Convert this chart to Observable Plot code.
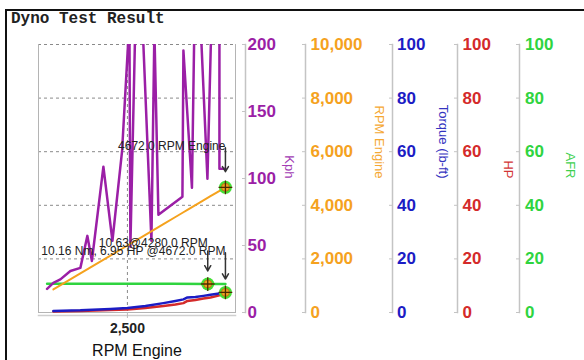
<!DOCTYPE html>
<html><head><meta charset="utf-8">
<script src="https://cdn.jsdelivr.net/npm/d3@7"></script>
<script src="https://cdn.jsdelivr.net/npm/@observablehq/plot@0.6"></script>
<style>
body{margin:0;background:#fff;}
#wrap{position:relative;width:584px;height:360px;overflow:hidden;}
#border{position:absolute;left:5px;top:9px;right:-10px;bottom:-10px;border-left:2px solid #111;border-top:2px solid #111;pointer-events:none;}
#title{height:28px;box-sizing:border-box;padding:11px 0 0 11px;font:bold 16px "Liberation Mono","Courier New",monospace;color:#222;line-height:16px;overflow:visible;}
</style></head><body>
<div id="wrap"><div id="border"></div><div id="title">Dyno Test Result</div><div id="chart"></div></div>
<script>
// Kph series (own RPM samples)
const kphRpm = [720, 860, 1015, 1237, 1458, 1613, 1713, 1968, 2168, 2382, 2544, 2566, 2677, 2832, 3032, 3098, 3187, 3719, 3741, 3930, 3985, 4118, 4273, 4362, 4539, 4539, 4672];
const kph    = [17.6, 22.1, 24.7, 31.0, 33.3, 57.2, 38.5, 108.8, 53.5, 120.7, 218, 49, 218, 218, 53.5, 210, 72.9, 86.4, 195.5, 93.1, 218, 218, 99.8, 218, 218, 107.3, 107.3];
// Engine RPM, Torque (lb-ft), HP
const rpm    = [860, 1458, 2123, 2500, 2899, 3298, 3564, 3741, 3830, 4007, 4184, 4340, 4495, 4672];
const torque = [0.6, 0.8, 1.3, 1.7, 2.4, 3.5, 4.3, 4.9, 5.6, 5.8, 6.2, 6.6, 7.0, 7.49];
const hp     = [0.4, 0.6, 0.9, 1.1, 1.7, 2.4, 3.0, 3.5, 4.3, 4.7, 5.2, 5.6, 6.2, 6.95];
// AFR
const afrRpm = [720, 1500, 2500, 3500, 4280, 4672];
const afr    = [10.7, 10.7, 10.7, 10.7, 10.63, 10.63];
// Callouts
const calloutText  = ["4672.0 RPM Engine", "10.63@4280.0 RPM", "10.16 Nm, 6.95 HP @4672.0 RPM"];
const calloutRpm   = [4672, 4280, 4672];
const calloutValue = [46.72, 10.63, 7.49]; // on the shared 0-100 axis
// Tick labels
const kphTicks = [0, 50, 100, 150, 200];
const rpmTicks = [0, 2000, 4000, 6000, 8000, 10000];
const pctTicks = [0, 20, 40, 60, 80, 100];
const xTicks = [2500];

const purple = "#9b1fa6", orange = "#f5a21e", blue = "#1c1cc4", red = "#d42a2a", green = "#2fd43f";

const rows = rpm.map((r, i) => ({rpm: r, eng: r / 100, torque: torque[i], hp: hp[i]}));
const kphRows = kphRpm.map((r, i) => ({rpm: r, v: kph[i] / 2}));
const afrRows = afrRpm.map((r, i) => ({rpm: r, v: afr[i]}));
const callouts = calloutText.map((t, i) => ({text: t, rpm: calloutRpm[i], v: calloutValue[i]}));

const fmtComma = d3.format(",");
const axes = [
  {ticks: kphTicks.map(d => d / 2), fmt: d => String(d * 2), color: purple, line: 245, pad: 2, title: "Kph", tdx: 54, tcolor: "#a23cb4"},
  {ticks: rpmTicks.map(d => d / 100), fmt: d => fmtComma(d * 100), color: orange, line: 305, pad: 5, title: "RPM Engine", tdx: 144, tcolor: "#f5a833"},
  {ticks: pctTicks, fmt: d => String(d), color: blue, line: 392, pad: 4.5, title: "Torque (lb-ft)", tdx: 208, tcolor: "#3434c0"},
  {ticks: pctTicks, fmt: d => String(d), color: red, line: 457, pad: 5, title: "HP", tdx: 273, tcolor: "#d23434"},
  {ticks: pctTicks, fmt: d => String(d), color: green, line: 519, pad: 5.5, title: "AFR", tdx: 335, tcolor: "#3ed04e"}
];
const L = 38, R = 235;

const axisMarks = axes.flatMap(a => [
  Plot.frame({anchor: "left", dx: a.line - L, stroke: "#c4c4c4", strokeWidth: 1.5}),
  Plot.axisY({anchor: "left", dx: a.line - L, ticks: a.ticks, tickSize: 3, tickFormat: () => "", stroke: "#c4c4c4", label: null}),
  Plot.axisY({anchor: "right", dx: a.line - R, ticks: a.ticks, tickSize: 0, tickPadding: a.pad, tickFormat: a.fmt, fill: a.color, fontSize: 17, fontWeight: "bold", label: null}),
  Plot.text([a.title], {frameAnchor: "right", dx: a.tdx, rotate: 90, fill: a.tcolor, fontSize: 13})
]);

const chart = Plot.plot({
  width: 584, height: 332,
  marginLeft: L, marginRight: 584 - R, marginTop: 16, marginBottom: 48,
  x: {domain: [530, 4895]},
  y: {domain: [0, 100]},
  style: {fontFamily: "'Liberation Sans', Arial, sans-serif", background: "transparent", overflow: "visible"},
  marks: [
    Plot.gridY({ticks: pctTicks, stroke: "#8a8a8a", strokeOpacity: 1, strokeDasharray: "3,3"}),
    Plot.gridX({ticks: xTicks, stroke: "#8a8a8a", strokeOpacity: 1, strokeDasharray: "3,3"}),
    Plot.frame({anchor: "left", stroke: "#b4b4b4"}),
    Plot.frame({anchor: "right", stroke: "#b4b4b4"}),
    Plot.frame({anchor: "bottom", stroke: "#b4b4b4"}),
    Plot.frame({anchor: "bottom", dy: 3, stroke: "#cfcfcf", strokeWidth: 1.5}),
    Plot.axisX({ticks: xTicks, tickFormat: fmtComma, tickSize: 6, tickPadding: 5, fontSize: 14, fontWeight: "bold", fill: "#222", stroke: "#bbb", label: null}),
    Plot.text(["RPM Engine"], {frameAnchor: "bottom", dy: 43, fontSize: 16, fill: "#111"}),
    ...axisMarks,
    Plot.line(afrRows, {x: "rpm", y: "v", stroke: green, strokeWidth: 2.5}),
    Plot.line(rows, {x: "rpm", y: "hp", stroke: red, strokeWidth: 2.5}),
    Plot.line(rows, {x: "rpm", y: "torque", stroke: blue, strokeWidth: 2.5}),
    Plot.line(kphRows, {x: "rpm", y: "v", stroke: purple, strokeWidth: 2.5, clip: true, strokeLinejoin: "round"}),
    Plot.line(rows, {x: "rpm", y: "eng", stroke: orange, strokeWidth: 2}),
    Plot.text(callouts, {x: "rpm", y: "v", text: "text", textAnchor: "end", dy: -41, fontSize: 12, fill: "#222"}),
    Plot.arrow(callouts, {x1: "rpm", x2: "rpm", y1: (d, i) => d.v + [14.8, 12.3, 14.8][i], y2: (d, i) => d.v + [5.8, 4.9, 5.0][i], stroke: "#333", strokeWidth: 1.5, headLength: 6}),
    Plot.dot(callouts, {x: "rpm", y: "v", r: 6.5, fill: "#44e034"}),
    Plot.dot(callouts, {x: "rpm", y: "v", r: 4, fill: "#f0a020", stroke: "#b07010", strokeWidth: 0.8}),
    Plot.dot(callouts, {x: "rpm", y: "v", r: 4.5, symbol: "plus", stroke: "#4a2a00", strokeWidth: 1.3})
  ]
});
document.getElementById("chart").appendChild(chart);
</script>
</body></html>
